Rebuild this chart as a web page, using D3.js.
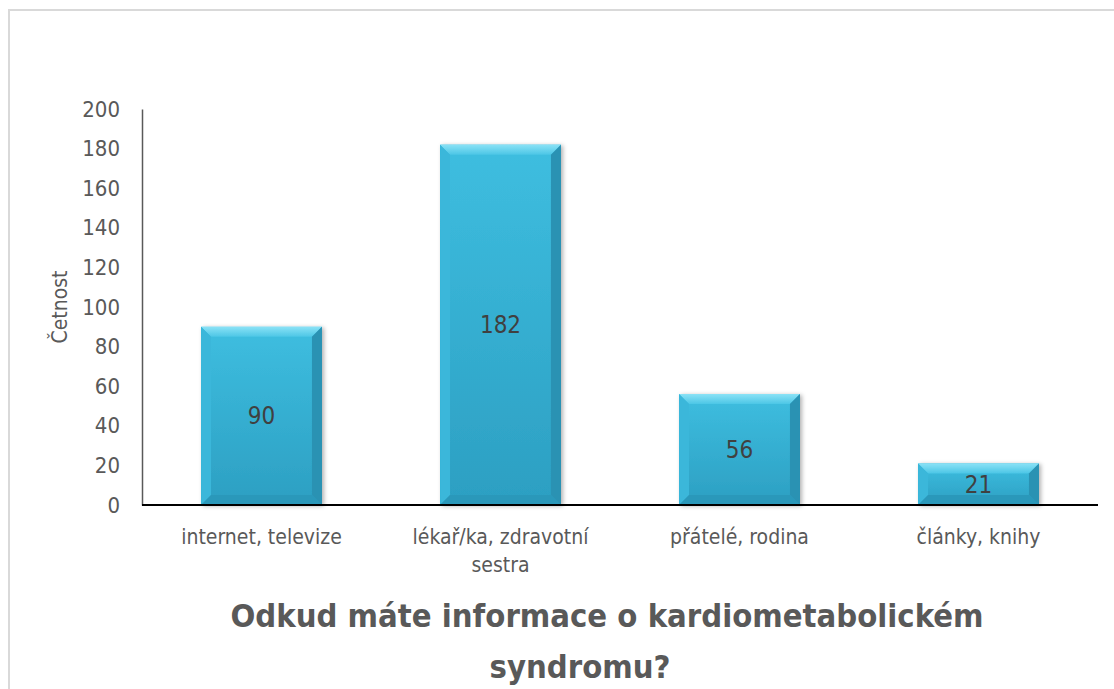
<!DOCTYPE html>
<html>
<head>
<meta charset="utf-8">
<script src="https://cdn.jsdelivr.net/npm/d3@7"></script>
<style>
  body { margin: 0; background: #fff; }
  svg { display: block; }
  text { font-family: "Liberation Sans Narrow", "DejaVu Sans Condensed", Roboto, sans-serif; }
</style>
</head>
<body>
<svg id="chart"></svg>
<script>
let categories = ["internet, televize", "lékař/ka, zdravotní sestra", "přátelé, rodina", "články, knihy"];
let values = [90, 182, 56, 21];
let yTicks = [0, 20, 40, 60, 80, 100, 120, 140, 160, 180, 200];
let titleLines = ["Odkud máte informace o kardiometabolickém", "syndromu?"];
let yTitle = "Četnost";

let width = 1114;
let height = 689;
let plotLeft = 142;
let plotRight = 1098;
let plotTop = 109;
let plotBottom = 505;

let svg = d3.select("#chart").attr("width", width).attr("height", height);

// frame
svg.append("rect")
  .attr("x", 9).attr("y", 10)
  .attr("width", width + 20).attr("height", height + 20)
  .attr("fill", "#fff")
  .attr("stroke", "#d9d9d9").attr("stroke-width", 2);

let defs = svg.append("defs");
let grad = defs.append("linearGradient").attr("id", "barFill")
  .attr("x1", 0).attr("y1", 0).attr("x2", 0).attr("y2", 1);
grad.append("stop").attr("offset", "0%").attr("stop-color", "#3ebee0");
grad.append("stop").attr("offset", "100%").attr("stop-color", "#2c9fc2");

let topGrad = defs.append("linearGradient").attr("id", "topFill")
  .attr("x1", 0).attr("y1", 0).attr("x2", 0).attr("y2", 1);
topGrad.append("stop").attr("offset", "0%").attr("stop-color", "#8ae2f6");
topGrad.append("stop").attr("offset", "100%").attr("stop-color", "#4cc6e6");

let shadow = defs.append("filter").attr("id", "shadow")
  .attr("x", "-10%").attr("y", "-10%").attr("width", "130%").attr("height", "130%");
shadow.append("feDropShadow").attr("dx", 2).attr("dy", 1).attr("stdDeviation", 2)
  .attr("flood-color", "#000").attr("flood-opacity", 0.3);

let xScale = d3.scaleBand().domain(categories).range([plotLeft, plotRight]).paddingInner(0.494).paddingOuter(0.247);
let yScale = d3.scaleLinear().domain([0, 200]).range([plotBottom, plotTop]);

// y axis
let yAxis = d3.axisLeft(yScale).tickValues(yTicks).tickSize(0).tickPadding(22);
let yg = svg.append("g").attr("transform", "translate(" + plotLeft + ",0)").call(yAxis);
yg.select(".domain").attr("stroke", "#595959").attr("stroke-width", 1.5);
yg.selectAll("text").attr("fill", "#595959").attr("font-size", 22);

// axis title
svg.append("text")
  .attr("transform", "translate(67," + ((plotTop + plotBottom) / 2) + ") rotate(-90)")
  .attr("text-anchor", "middle")
  .attr("fill", "#595959")
  .attr("font-size", 21)
  .text(yTitle);

// bars
let bars = svg.selectAll(".bar").data(values).enter().append("g")
  .attr("class", "bar")
  .attr("filter", "url(#shadow)");

bars.each(function (d, i) {
  let g = d3.select(this);
  let x0 = xScale(categories[i]);
  let x1 = x0 + xScale.bandwidth();
  let y0 = yScale(d);
  let y1 = yScale(0);
  let b = Math.min(10, (y1 - y0) / 2);
  g.append("rect").attr("x", x0).attr("y", y0).attr("width", x1 - x0).attr("height", y1 - y0)
    .attr("fill", "url(#barFill)");
  let poly = (pts, fill) => g.append("polygon").attr("points", pts.map((p) => p.join(",")).join(" ")).attr("fill", fill);
  poly([[x0, y0], [x1, y0], [x1 - b, y0 + b], [x0 + b, y0 + b]], "url(#topFill)");
  poly([[x0, y0], [x0 + b, y0 + b], [x0 + b, y1 - b], [x0, y1]], "#3ab7da");
  poly([[x1, y0], [x1, y1], [x1 - b, y1 - b], [x1 - b, y0 + b]], "#2a92b3");
  poly([[x0, y1], [x0 + b, y1 - b], [x1 - b, y1 - b], [x1, y1]], "#2b98ba");
});

// value labels
svg.selectAll(".val").data(values).enter().append("text")
  .attr("class", "val")
  .attr("x", (d, i) => xScale(categories[i]) + xScale.bandwidth() / 2)
  .attr("y", (d) => (yScale(d) + yScale(0)) / 2)
  .attr("dy", "0.35em")
  .attr("text-anchor", "middle")
  .attr("fill", "#404040")
  .attr("font-size", 24)
  .text((d) => d);

// x axis
svg.append("line")
  .attr("x1", plotLeft).attr("x2", plotRight)
  .attr("y1", plotBottom).attr("y2", plotBottom)
  .attr("stroke", "#000").attr("stroke-width", 2);

// category labels, wrapped
let wrap = { "lékař/ka, zdravotní sestra": ["lékař/ka, zdravotní", "sestra"] };
categories.forEach((c) => {
  let lines = wrap[c] || [c];
  let t = svg.append("text")
    .attr("x", xScale(c) + xScale.bandwidth() / 2)
    .attr("y", 544)
    .attr("text-anchor", "middle")
    .attr("fill", "#595959")
    .attr("font-size", 21);
  lines.forEach((l, k) => {
    t.append("tspan").attr("x", xScale(c) + xScale.bandwidth() / 2).attr("dy", k === 0 ? 0 : 28).text(l);
  });
});

// title
titleLines.forEach((l, k) => {
  svg.append("text")
    .attr("x", 607 - k * 27)
    .attr("y", 627 + k * 51)
    .attr("text-anchor", "middle")
    .attr("fill", "#595959")
    .attr("font-size", 32.5)
    .attr("font-weight", "bold")
    .text(l);
});
</script>
</body>
</html>
